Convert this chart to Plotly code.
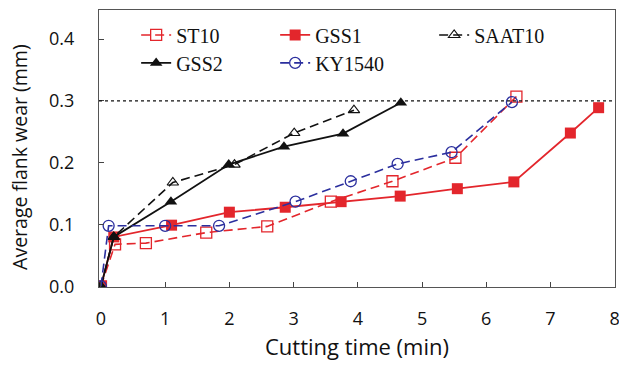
import plotly.graph_objects as go

# Data
st10_x = [0, 0.22, 0.70, 1.64, 2.59, 3.58, 4.54, 5.52, 6.47]
st10_y = [0, 0.068, 0.07, 0.087, 0.097, 0.137, 0.17, 0.208, 0.307]

gss1_x = [0, 0.2, 1.10, 2.0, 2.87, 3.74, 4.66, 5.55, 6.43, 7.31, 7.75]
gss1_y = [0, 0.08, 0.099, 0.12, 0.128, 0.137, 0.146, 0.158, 0.169, 0.248, 0.289]

saat10_x = [0, 0.2, 1.12, 2.08, 3.01, 3.94]
saat10_y = [0, 0.08, 0.168, 0.197, 0.248, 0.285]

gss2_x = [0, 0.2, 1.09, 1.99, 2.85, 3.77, 4.67]
gss2_y = [0, 0.08, 0.137, 0.197, 0.226, 0.247, 0.297]

ky_x = [0, 0.12, 1.0, 1.84, 3.03, 3.89, 4.62, 5.46, 6.4]
ky_y = [0, 0.098, 0.098, 0.098, 0.137, 0.17, 0.198, 0.217, 0.298]

limit_y = 0.3

RED = "#e3262c"
BLUE = "#2b2f9e"
BLACK = "#111111"
FONT = "Liberation Serif"
SANS = "Open Sans"
DASH = "9px,5px"

fig = go.Figure()

fig.add_trace(go.Scatter(x=st10_x, y=st10_y, name="ST10", mode="lines+markers",
                         line=dict(color=RED, width=1.6, dash=DASH),
                         marker=dict(symbol="square-open", size=11, color=RED, line=dict(width=1.3)),
                         legend="legend", legendwidth=94))
fig.add_trace(go.Scatter(x=gss1_x, y=gss1_y, name="GSS1", mode="lines+markers",
                         line=dict(color=RED, width=1.8),
                         marker=dict(symbol="square", size=11, color=RED),
                         legend="legend", legendwidth=114))
fig.add_trace(go.Scatter(x=saat10_x, y=saat10_y, name="SAAT10", mode="lines+markers",
                         line=dict(color=BLACK, width=1.6, dash=DASH),
                         marker=dict(symbol="triangle-up-open", size=10, color=BLACK, line=dict(width=1.1)),
                         legend="legend", legendwidth=100))
fig.add_trace(go.Scatter(x=gss2_x, y=gss2_y, name="GSS2", mode="lines+markers",
                         line=dict(color=BLACK, width=1.8),
                         marker=dict(symbol="triangle-up", size=11, color=BLACK),
                         legend="legend2", legendwidth=94))
fig.add_trace(go.Scatter(x=ky_x, y=ky_y, name="KY1540", mode="lines+markers",
                         line=dict(color=BLUE, width=1.6, dash=DASH),
                         marker=dict(symbol="circle-open", size=11, color=BLUE, line=dict(width=1.3)),
                         legend="legend2", legendwidth=100))

fig.add_shape(type="line", xref="paper", yref="y", x0=0, x1=1, y0=limit_y, y1=limit_y,
              line=dict(color=BLACK, width=1.3, dash="dot"))

# y-axis title placed as an annotation (reference title sits slightly below plot centre)
fig.add_annotation(text="Average flank wear (mm)", xref="paper", yref="paper",
                   x=-0.154, y=0.468, xanchor="center", yanchor="middle", textangle=-90,
                   showarrow=False, font=dict(family=SANS, size=19.5, color="#111"))

legend_common = dict(orientation="h", xanchor="left", yanchor="middle",
                     bgcolor="rgba(0,0,0,0)", font=dict(family=FONT, size=20, color="#111"),
                     tracegroupgap=0)

fig.update_layout(
    width=619, height=365,
    margin=dict(l=99, r=4, t=10, b=78),
    paper_bgcolor="white", plot_bgcolor="white",
    font=dict(family=FONT, size=16, color="#111"),
    showlegend=True,
    legend=dict(x=0.072, y=0.91, **legend_common),
    legend2=dict(x=0.072, y=0.809, **legend_common),
    xaxis=dict(range=[-0.03, 8.005], tickvals=[0, 1, 2, 3, 4, 5, 6, 7, 8],
               ticks="inside", ticklen=5, tickcolor="#444", showgrid=False, zeroline=False,
               showline=True, linecolor="#555", linewidth=1.2, mirror=True,
               tickfont=dict(family=SANS, size=18), ticklabelstandoff=15, automargin=False,
               ticklabeloverflow="allow",
               title=dict(text="Cutting time (min)", font=dict(family=SANS, size=22), standoff=10)),
    yaxis=dict(range=[-0.001, 0.447], tickvals=[0, 0.1, 0.2, 0.3, 0.4],
               ticktext=["0.0", "0.1", "0.2", "0.3", "0.4"],
               ticks="inside", ticklen=5, tickcolor="#444", showgrid=False, zeroline=False,
               showline=True, linecolor="#555", linewidth=1.2, mirror=True,
               tickfont=dict(family=SANS, size=18), ticklabelstandoff=20, automargin=False),
)

fig.write_html("out.html", config={"displayModeBar": False},
               post_script="document.body.style.margin='0';")
